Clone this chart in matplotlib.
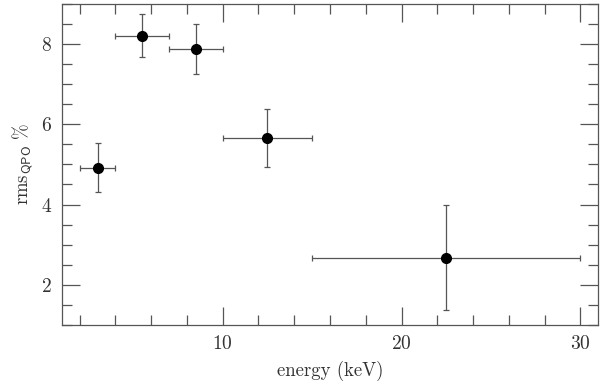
import matplotlib
matplotlib.use("Agg")
import matplotlib.pyplot as plt
from matplotlib.ticker import MultipleLocator

energy = [3.0, 5.5, 8.5, 12.5, 22.5]
energy_err = [1.0, 1.5, 1.5, 2.5, 7.5]
rms = [4.92, 8.21, 7.88, 5.65, 2.67]
rms_err = [0.62, 0.53, 0.63, 0.72, 1.31]

plt.rcParams['font.family'] = 'cmr10'
plt.rcParams['mathtext.fontset'] = 'cm'
plt.rcParams['axes.formatter.use_mathtext'] = True

fig = plt.figure(figsize=(6.0, 3.85), dpi=100)
ax = fig.add_axes([0.103, 0.156, 0.894, 0.834])

ax.errorbar(energy, rms, xerr=energy_err, yerr=rms_err, fmt='o', color='black',
            ecolor='#555555', elinewidth=0.9, capsize=2, capthick=0.9, markersize=7)

ax.set_xlim(1, 31)
ax.set_ylim(1, 9)
ax.xaxis.set_major_locator(MultipleLocator(10))
ax.xaxis.set_minor_locator(MultipleLocator(2))
ax.yaxis.set_major_locator(MultipleLocator(2))
ax.yaxis.set_minor_locator(MultipleLocator(0.5))
ax.tick_params(which='both', direction='in', top=True, right=True, color='#555555', width=0.9,
               labelsize=14, labelcolor='#333333')
ax.tick_params(which='major', length=13, pad=7)
ax.tick_params(which='minor', length=7)
for s in ax.spines.values():
    s.set_color('#555555')
    s.set_linewidth(0.9)

ax.set_xlabel('energy (keV)', fontsize=13.5, color='#333333', labelpad=6)
ax.set_ylabel(r'rms$_{\mathsf{QPO}}\ \%$', fontsize=13.5, color='#333333', labelpad=4)

fig.savefig('out.png', dpi=100)
